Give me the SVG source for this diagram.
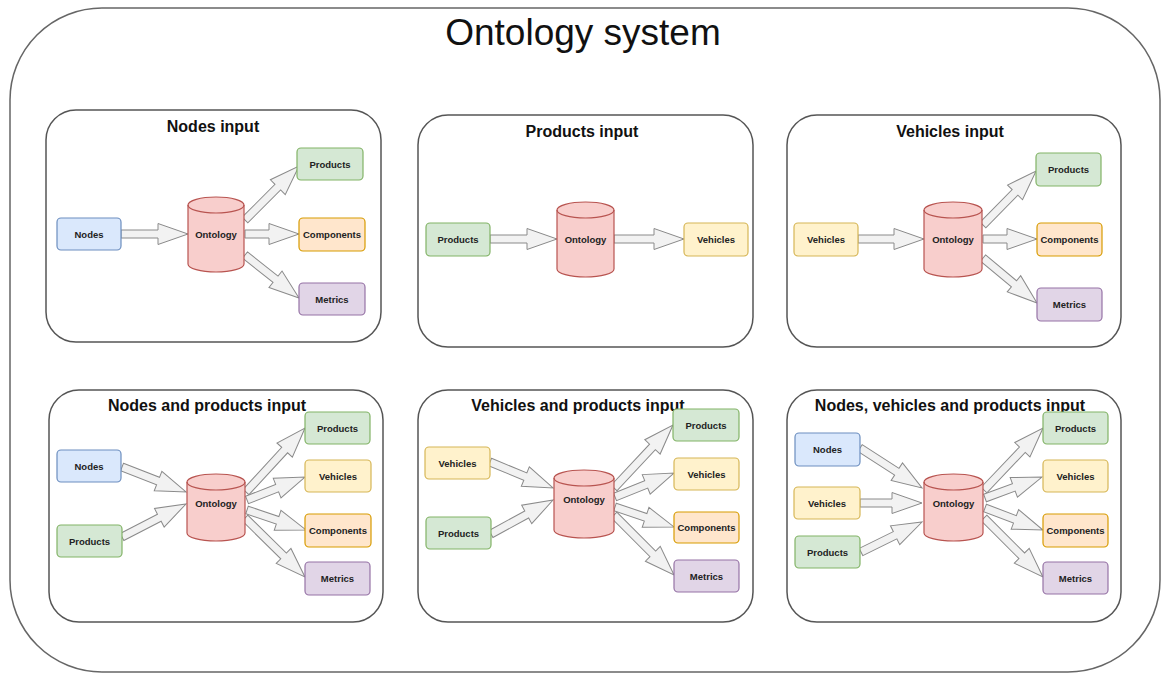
<svg xmlns="http://www.w3.org/2000/svg" width="1161" height="673" viewBox="0 0 1161 673">
<style>
.outer{fill:#fff;stroke:#666;stroke-width:1.5}
.panel{fill:#fff;stroke:#555;stroke-width:1.5}
.title{font-family:"Liberation Sans",Arial,sans-serif;font-size:37px;fill:#111;text-anchor:middle}
.ptitle{font-family:"Liberation Sans",Arial,sans-serif;font-size:16px;font-weight:bold;fill:#111;text-anchor:middle}
.lbl{font-family:"Liberation Sans",Arial,sans-serif;font-size:9.5px;font-weight:bold;fill:#222;text-anchor:middle}
.box{stroke-width:1.2}
.blue{fill:#dae8fc;stroke:#6c8ebf}
.green{fill:#d5e8d4;stroke:#82b366}
.yellow{fill:#fff2cc;stroke:#d6b656}
.orange{fill:#ffe6cc;stroke:#d79b00}
.purple{fill:#e1d5e7;stroke:#9673a6}
.cyl{fill:#f8cecc;stroke:#b85450;stroke-width:1.2}
.cyltop{fill:none;stroke:#b85450;stroke-width:1.2}
.arr{fill:#f2f2f2;stroke:#8a8a8a;stroke-width:1;stroke-linejoin:miter}
</style>
<rect class="outer" x="10" y="8" width="1150" height="664" rx="92" ry="92"/>
<text class="title" x="583" y="45">Ontology system</text>

<g id="panel-nodes-input">
<rect class="panel" x="46" y="110" width="335" height="232" rx="30"/>
<text class="ptitle" x="213" y="132">Nodes input</text>
</g>
<g id="panel-products-input">
<rect class="panel" x="418" y="115" width="335" height="232" rx="30"/>
<text class="ptitle" x="582" y="137">Products input</text>
</g>
<g id="panel-vehicles-input">
<rect class="panel" x="787" y="115" width="334" height="232" rx="30"/>
<text class="ptitle" x="950" y="137">Vehicles input</text>
</g>
<g id="panel-nodes-products-input">
<rect class="panel" x="49" y="390" width="334" height="232" rx="30"/>
<text class="ptitle" x="207" y="411">Nodes and products input</text>
</g>
<g id="panel-vehicles-products-input">
<rect class="panel" x="418" y="390" width="335" height="232" rx="30"/>
<text class="ptitle" x="578" y="411">Vehicles and products input</text>
</g>
<g id="panel-nodes-vehicles-products-input">
<rect class="panel" x="787" y="390" width="334" height="232" rx="30"/>
<text class="ptitle" x="950" y="411">Nodes, vehicles and products input</text>
</g>

<g id="connectors">
<!-- panel 1 -->
<path class="arr" transform="translate(121,234)" d="M0,-4 H37 V-10.5 L67,0 L37,10.5 V4 H0 Z"/>
<path class="arr" transform="translate(245,220) rotate(-45)" d="M0,-4 H46.4 V-10.5 L76.4,0 L46.4,10.5 V4 H0 Z"/>
<path class="arr" transform="translate(245,234)" d="M0,-4 H24 V-10.5 L54,0 L24,10.5 V4 H0 Z"/>
<path class="arr" transform="translate(245,255) rotate(38.5)" d="M0,-4 H39 V-10.5 L69,0 L39,10.5 V4 H0 Z"/>
<!-- panel 2 -->
<path class="arr" transform="translate(490,239)" d="M0,-4 H37 V-10.5 L67,0 L37,10.5 V4 H0 Z"/>
<path class="arr" transform="translate(614,239)" d="M0,-4 H40 V-10.5 L70,0 L40,10.5 V4 H0 Z"/>
<!-- panel 3 -->
<path class="arr" transform="translate(858,239)" d="M0,-4 H36 V-10.5 L66,0 L36,10.5 V4 H0 Z"/>
<path class="arr" transform="translate(983,225) rotate(-45.5)" d="M0,-4 H45.7 V-10.5 L75.7,0 L45.7,10.5 V4 H0 Z"/>
<path class="arr" transform="translate(983,239)" d="M0,-4 H24 V-10.5 L54,0 L24,10.5 V4 H0 Z"/>
<path class="arr" transform="translate(983,258) rotate(39.8)" d="M0,-4 H40.3 V-10.5 L70.3,0 L40.3,10.5 V4 H0 Z"/>
<!-- panel 4 -->
<path class="arr" transform="translate(122,467) rotate(21.3)" d="M0,-4 H38.7 V-10.5 L68.7,0 L38.7,10.5 V4 H0 Z"/>
<path class="arr" transform="translate(122,537) rotate(-27.3)" d="M0,-4 H42 V-10.5 L72,0 L42,10.5 V4 H0 Z"/>
<path class="arr" transform="translate(246,492) rotate(-47.3)" d="M0,-4 H57 V-10.5 L87,0 L57,10.5 V4 H0 Z"/>
<path class="arr" transform="translate(247,500) rotate(-21.6)" d="M0,-4 H32.4 V-10.5 L62.4,0 L32.4,10.5 V4 H0 Z"/>
<path class="arr" transform="translate(247,510) rotate(18.7)" d="M0,-4 H32.3 V-10.5 L62.3,0 L32.3,10.5 V4 H0 Z"/>
<path class="arr" transform="translate(245,518) rotate(44.5)" d="M0,-4 H54.1 V-10.5 L84.1,0 L54.1,10.5 V4 H0 Z"/>
<!-- panel 5 -->
<path class="arr" transform="translate(490,462) rotate(22.4)" d="M0,-4 H38.2 V-10.5 L68.2,0 L38.2,10.5 V4 H0 Z"/>
<path class="arr" transform="translate(491,534) rotate(-28.7)" d="M0,-4 H40.7 V-10.5 L70.7,0 L40.7,10.5 V4 H0 Z"/>
<path class="arr" transform="translate(614,488) rotate(-46.9)" d="M0,-4 H56.3 V-10.5 L86.3,0 L56.3,10.5 V4 H0 Z"/>
<path class="arr" transform="translate(615,497) rotate(-22.1)" d="M0,-4 H33.7 V-10.5 L63.7,0 L33.7,10.5 V4 H0 Z"/>
<path class="arr" transform="translate(615,507) rotate(18.7)" d="M0,-4 H32.3 V-10.5 L62.3,0 L32.3,10.5 V4 H0 Z"/>
<path class="arr" transform="translate(614,515) rotate(45)" d="M0,-4 H54.9 V-10.5 L84.9,0 L54.9,10.5 V4 H0 Z"/>
<!-- panel 6 -->
<path class="arr" transform="translate(860,448) rotate(32.8)" d="M0,-4 H43.8 V-10.5 L73.8,0 L43.8,10.5 V4 H0 Z"/>
<path class="arr" transform="translate(860,503)" d="M0,-4 H32 V-10.5 L62,0 L32,10.5 V4 H0 Z"/>
<path class="arr" transform="translate(861,552) rotate(-26.2)" d="M0,-4 H38 V-10.5 L68,0 L38,10.5 V4 H0 Z"/>
<path class="arr" transform="translate(984,490) rotate(-46.4)" d="M0,-4 H55.6 V-10.5 L85.6,0 L55.6,10.5 V4 H0 Z"/>
<path class="arr" transform="translate(985,498) rotate(-20.2)" d="M0,-4 H30.7 V-10.5 L60.7,0 L30.7,10.5 V4 H0 Z"/>
<path class="arr" transform="translate(985,508) rotate(20.8)" d="M0,-4 H32 V-10.5 L62,0 L32,10.5 V4 H0 Z"/>
<path class="arr" transform="translate(984,518) rotate(45)" d="M0,-4 H53.4 V-10.5 L83.4,0 L53.4,10.5 V4 H0 Z"/>
</g>

<!-- Panel 1 nodes -->
<g id="p1-nodes"><rect class="box blue" x="57" y="218" width="64" height="32" rx="4"/><text class="lbl" x="89" y="237.5">Nodes</text></g>
<g id="p1-ontology"><path class="cyl" d="M188,205 a28,8 0 0 1 56,0 V264 a28,8 0 0 1 -56,0 Z"/><path class="cyltop" d="M188,205 a28,8 0 0 0 56,0"/><text class="lbl" x="216" y="237.5">Ontology</text></g>
<g id="p1-products"><rect class="box green" x="297" y="148" width="66" height="32" rx="4"/><text class="lbl" x="330" y="167.5">Products</text></g>
<g id="p1-components"><rect class="box orange" x="299" y="218" width="66" height="33" rx="4"/><text class="lbl" x="332" y="238">Components</text></g>
<g id="p1-metrics"><rect class="box purple" x="299" y="283" width="66" height="32" rx="4"/><text class="lbl" x="332" y="302.5">Metrics</text></g>

<!-- Panel 2 nodes -->
<g id="p2-products"><rect class="box green" x="426" y="223" width="64" height="33" rx="4"/><text class="lbl" x="458" y="243">Products</text></g>
<g id="p2-ontology"><path class="cyl" d="M557,210 a28.5,8 0 0 1 57,0 V269 a28.5,8 0 0 1 -57,0 Z"/><path class="cyltop" d="M557,210 a28.5,8 0 0 0 57,0"/><text class="lbl" x="585.5" y="242.5">Ontology</text></g>
<g id="p2-vehicles"><rect class="box yellow" x="684" y="223" width="64" height="33" rx="4"/><text class="lbl" x="716" y="243">Vehicles</text></g>

<!-- Panel 3 nodes -->
<g id="p3-vehicles"><rect class="box yellow" x="794" y="223" width="64" height="33" rx="4"/><text class="lbl" x="826" y="243">Vehicles</text></g>
<g id="p3-ontology"><path class="cyl" d="M924,210 a29,8 0 0 1 58,0 V269 a29,8 0 0 1 -58,0 Z"/><path class="cyltop" d="M924,210 a29,8 0 0 0 58,0"/><text class="lbl" x="953" y="242.5">Ontology</text></g>
<g id="p3-products"><rect class="box green" x="1036" y="153" width="65" height="33" rx="4"/><text class="lbl" x="1068.5" y="173">Products</text></g>
<g id="p3-components"><rect class="box orange" x="1037" y="223" width="65" height="33" rx="4"/><text class="lbl" x="1069.5" y="243">Components</text></g>
<g id="p3-metrics"><rect class="box purple" x="1037" y="288" width="65" height="33" rx="4"/><text class="lbl" x="1069.5" y="308">Metrics</text></g>

<!-- Panel 4 nodes -->
<g id="p4-nodes"><rect class="box blue" x="57" y="450" width="64" height="32" rx="4"/><text class="lbl" x="89" y="469.5">Nodes</text></g>
<g id="p4-products-in"><rect class="box green" x="57" y="525" width="65" height="32" rx="4"/><text class="lbl" x="89.5" y="544.5">Products</text></g>
<g id="p4-ontology"><path class="cyl" d="M187,482 a29,8 0 0 1 58,0 V533 a29,8 0 0 1 -58,0 Z"/><path class="cyltop" d="M187,482 a29,8 0 0 0 58,0"/><text class="lbl" x="216" y="506.5">Ontology</text></g>
<g id="p4-products"><rect class="box green" x="305" y="412" width="65" height="32" rx="4"/><text class="lbl" x="337.5" y="431.5">Products</text></g>
<g id="p4-vehicles"><rect class="box yellow" x="305" y="460" width="66" height="32" rx="4"/><text class="lbl" x="338" y="479.5">Vehicles</text></g>
<g id="p4-components"><rect class="box orange" x="305" y="514" width="66" height="33" rx="4"/><text class="lbl" x="338" y="534">Components</text></g>
<g id="p4-metrics"><rect class="box purple" x="305" y="562" width="65" height="33" rx="4"/><text class="lbl" x="337.5" y="582">Metrics</text></g>

<!-- Panel 5 nodes -->
<g id="p5-vehicles-in"><rect class="box yellow" x="425" y="447" width="65" height="32" rx="4"/><text class="lbl" x="457.5" y="466.5">Vehicles</text></g>
<g id="p5-products-in"><rect class="box green" x="426" y="517" width="65" height="32" rx="4"/><text class="lbl" x="458.5" y="536.5">Products</text></g>
<g id="p5-ontology"><path class="cyl" d="M554,478 a30,8 0 0 1 60,0 V530 a30,8 0 0 1 -60,0 Z"/><path class="cyltop" d="M554,478 a30,8 0 0 0 60,0"/><text class="lbl" x="584" y="502.5">Ontology</text></g>
<g id="p5-products"><rect class="box green" x="673" y="409" width="66" height="32" rx="4"/><text class="lbl" x="706" y="428.5">Products</text></g>
<g id="p5-vehicles"><rect class="box yellow" x="674" y="458" width="65" height="32" rx="4"/><text class="lbl" x="706.5" y="477.5">Vehicles</text></g>
<g id="p5-components"><rect class="box orange" x="674" y="512" width="65" height="31" rx="4"/><text class="lbl" x="706.5" y="531">Components</text></g>
<g id="p5-metrics"><rect class="box purple" x="674" y="560" width="65" height="32" rx="4"/><text class="lbl" x="706.5" y="579.5">Metrics</text></g>

<!-- Panel 6 nodes -->
<g id="p6-nodes"><rect class="box blue" x="795" y="433" width="65" height="33" rx="4"/><text class="lbl" x="827.5" y="453">Nodes</text></g>
<g id="p6-vehicles-in"><rect class="box yellow" x="794" y="487" width="66" height="32" rx="4"/><text class="lbl" x="827" y="506.5">Vehicles</text></g>
<g id="p6-products-in"><rect class="box green" x="795" y="536" width="65" height="32" rx="4"/><text class="lbl" x="827.5" y="555.5">Products</text></g>
<g id="p6-ontology"><path class="cyl" d="M924,482 a29.5,8 0 0 1 59,0 V533 a29.5,8 0 0 1 -59,0 Z"/><path class="cyltop" d="M924,482 a29.5,8 0 0 0 59,0"/><text class="lbl" x="953.5" y="506.5">Ontology</text></g>
<g id="p6-products"><rect class="box green" x="1043" y="412" width="65" height="32" rx="4"/><text class="lbl" x="1075.5" y="431.5">Products</text></g>
<g id="p6-vehicles"><rect class="box yellow" x="1043" y="460" width="65" height="32" rx="4"/><text class="lbl" x="1075.5" y="479.5">Vehicles</text></g>
<g id="p6-components"><rect class="box orange" x="1043" y="514" width="65" height="33" rx="4"/><text class="lbl" x="1075.5" y="534">Components</text></g>
<g id="p6-metrics"><rect class="box purple" x="1043" y="562" width="65" height="32" rx="4"/><text class="lbl" x="1075.5" y="581.5">Metrics</text></g>
</svg>
